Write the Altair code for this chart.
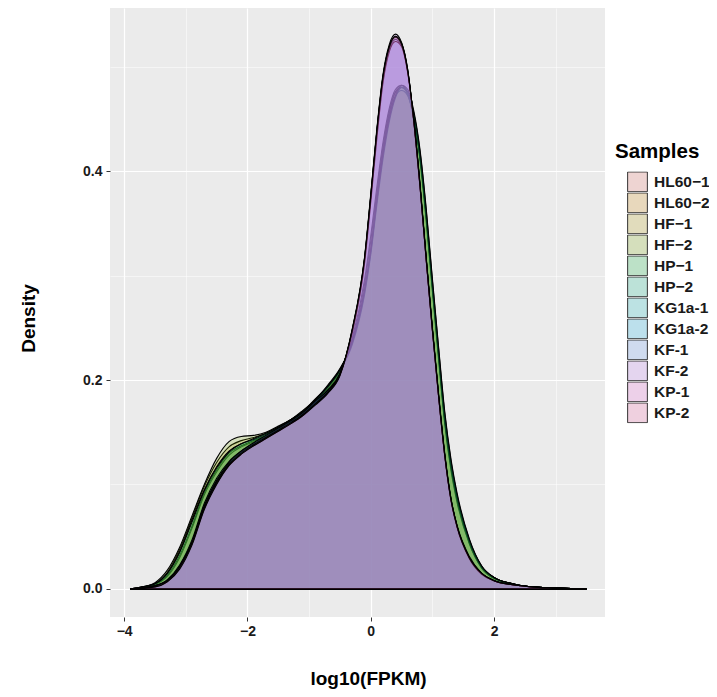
import altair as alt
import pandas as pd

# x grid (log10 FPKM) shared by every density curve
X = [-3.9, -3.7, -3.5, -3.3, -3.1, -2.9, -2.7, -2.5, -2.3, -2.1, -1.9, -1.7, -1.5, -1.3,
     -1.1, -0.9, -0.7, -0.5, -0.3, -0.1, 0.0, 0.1, 0.2, 0.3, 0.4, 0.5, 0.6, 0.7, 0.8,
     0.9, 1.0, 1.1, 1.2, 1.3, 1.4, 1.6, 1.8, 2.0, 2.3, 2.6, 3.0, 3.5]

SAMPLES = ["HL60\u22121", "HL60\u22122", "HF\u22121", "HF\u22122", "HP\u22121", "HP\u22122",
           "KG1a-1", "KG1a-2", "KF-1", "KF-2", "KP-1", "KP-2"]

D_HL60_1 = [0, 0.001, 0.004, 0.012, 0.030, 0.058, 0.090, 0.112, 0.128, 0.136, 0.141, 0.147, 0.153, 0.160,
            0.168, 0.178, 0.191, 0.207, 0.240, 0.296, 0.338, 0.385, 0.428, 0.460, 0.478, 0.482, 0.474, 0.450, 0.412,
            0.354, 0.287, 0.222, 0.160, 0.116, 0.085, 0.044, 0.020, 0.010, 0.005, 0.002, 0.001, 0]
D_HL60_2 = [0, 0.001, 0.004, 0.013, 0.032, 0.060, 0.092, 0.114, 0.130, 0.137, 0.142, 0.147, 0.154, 0.161,
            0.169, 0.180, 0.193, 0.208, 0.238, 0.292, 0.333, 0.380, 0.424, 0.457, 0.476, 0.480, 0.473, 0.449, 0.410,
            0.352, 0.285, 0.220, 0.158, 0.114, 0.083, 0.043, 0.020, 0.010, 0.005, 0.002, 0.001, 0]
D_HF_1 = [0, 0.002, 0.005, 0.016, 0.038, 0.068, 0.098, 0.121, 0.136, 0.142, 0.145, 0.149, 0.155, 0.162,
          0.170, 0.182, 0.194, 0.210, 0.236, 0.286, 0.325, 0.375, 0.420, 0.455, 0.475, 0.480, 0.474, 0.451, 0.413,
          0.356, 0.289, 0.224, 0.162, 0.118, 0.087, 0.045, 0.021, 0.011, 0.005, 0.002, 0.001, 0]
D_HF_2 = [0, 0.002, 0.006, 0.018, 0.040, 0.070, 0.100, 0.125, 0.141, 0.146, 0.147, 0.150, 0.156, 0.162,
          0.171, 0.181, 0.195, 0.211, 0.236, 0.284, 0.322, 0.372, 0.418, 0.452, 0.472, 0.477, 0.472, 0.450, 0.413,
          0.357, 0.290, 0.225, 0.163, 0.119, 0.088, 0.046, 0.021, 0.011, 0.005, 0.002, 0.001, 0]
D_HP_1 = [0, 0.002, 0.005, 0.015, 0.036, 0.066, 0.095, 0.117, 0.132, 0.139, 0.143, 0.148, 0.154, 0.161,
          0.169, 0.180, 0.193, 0.209, 0.234, 0.282, 0.320, 0.368, 0.412, 0.447, 0.470, 0.480, 0.476, 0.455, 0.418,
          0.362, 0.295, 0.230, 0.168, 0.123, 0.090, 0.047, 0.022, 0.011, 0.005, 0.002, 0.001, 0]
D_HP_2 = [0, 0.002, 0.005, 0.015, 0.035, 0.064, 0.094, 0.116, 0.131, 0.139, 0.144, 0.149, 0.155, 0.162,
          0.170, 0.181, 0.194, 0.210, 0.236, 0.286, 0.324, 0.372, 0.416, 0.450, 0.472, 0.482, 0.478, 0.457, 0.420,
          0.364, 0.297, 0.232, 0.170, 0.125, 0.092, 0.048, 0.022, 0.011, 0.005, 0.002, 0.001, 0]
D_KG1A_1 = [0, 0.001, 0.003, 0.009, 0.023, 0.047, 0.082, 0.106, 0.122, 0.132, 0.139, 0.146, 0.153, 0.160,
            0.168, 0.179, 0.190, 0.206, 0.246, 0.313, 0.372, 0.434, 0.487, 0.516, 0.526, 0.520, 0.494, 0.447, 0.386,
            0.316, 0.249, 0.186, 0.129, 0.087, 0.060, 0.030, 0.015, 0.008, 0.004, 0.002, 0.001, 0]
D_KG1A_2 = [0, 0.001, 0.003, 0.008, 0.022, 0.045, 0.080, 0.104, 0.120, 0.131, 0.138, 0.145, 0.152, 0.159,
            0.167, 0.178, 0.189, 0.205, 0.247, 0.316, 0.376, 0.439, 0.491, 0.519, 0.529, 0.522, 0.496, 0.447, 0.385,
            0.315, 0.248, 0.185, 0.128, 0.086, 0.060, 0.030, 0.015, 0.008, 0.004, 0.002, 0.001, 0]
D_KF_1 = [0, 0.001, 0.003, 0.008, 0.021, 0.044, 0.079, 0.103, 0.121, 0.132, 0.140, 0.147, 0.154, 0.161,
          0.169, 0.180, 0.190, 0.206, 0.245, 0.312, 0.370, 0.432, 0.485, 0.514, 0.524, 0.519, 0.494, 0.448, 0.387,
          0.317, 0.250, 0.187, 0.130, 0.087, 0.061, 0.031, 0.015, 0.008, 0.004, 0.002, 0.001, 0]
D_KF_2 = [0, 0.001, 0.002, 0.007, 0.020, 0.043, 0.077, 0.101, 0.118, 0.129, 0.137, 0.144, 0.151, 0.158,
          0.166, 0.177, 0.188, 0.205, 0.249, 0.318, 0.378, 0.441, 0.493, 0.521, 0.531, 0.523, 0.497, 0.446, 0.384,
          0.314, 0.247, 0.184, 0.127, 0.085, 0.059, 0.029, 0.014, 0.008, 0.004, 0.002, 0.001, 0]
D_KP_1 = [0, 0.001, 0.003, 0.008, 0.021, 0.044, 0.078, 0.102, 0.119, 0.130, 0.138, 0.145, 0.152, 0.159,
          0.167, 0.177, 0.188, 0.205, 0.248, 0.316, 0.375, 0.438, 0.490, 0.518, 0.528, 0.521, 0.495, 0.447, 0.385,
          0.315, 0.248, 0.185, 0.128, 0.086, 0.060, 0.030, 0.015, 0.008, 0.004, 0.002, 0.001, 0]
D_KP_2 = [0, 0.001, 0.002, 0.007, 0.019, 0.042, 0.076, 0.100, 0.118, 0.129, 0.137, 0.144, 0.151, 0.158,
          0.166, 0.176, 0.187, 0.204, 0.248, 0.317, 0.376, 0.439, 0.491, 0.519, 0.529, 0.522, 0.496, 0.447, 0.385,
          0.315, 0.248, 0.185, 0.128, 0.086, 0.060, 0.030, 0.015, 0.008, 0.004, 0.002, 0.001, 0]

SERIES = [D_HL60_1, D_HL60_2, D_HF_1, D_HF_2, D_HP_1, D_HP_2,
          D_KG1A_1, D_KG1A_2, D_KF_1, D_KF_2, D_KP_1, D_KP_2]

HUES = ["#F8766D", "#DE8C00", "#B79F00", "#7CAE00", "#00BA38", "#00C08B",
        "#00BFC4", "#00B4F0", "#619CFF", "#C77CFF", "#F564E3", "#FF64B0"]
KEY_COLORS = ["#EED4D2", "#E8D8BC", "#E1DCBC", "#D5DFBC", "#BCE1C7", "#BCE2D8",
              "#BCE2E3", "#BCE0EC", "#CFDBEF", "#E4D5EF", "#EDD0E9", "#EFD0DF"]

X_TICKS = [-4, -3, -2, -1, 0, 1, 2, 3]
Y_TICKS = [0.0, 0.1, 0.2, 0.3, 0.4, 0.5]

rows = []
for i, (s, vals) in enumerate(zip(SAMPLES, SERIES)):
    for xv, dv in zip(X, vals):
        rows.append({"x": xv, "d": dv, "sample": s, "ord": i})
df = pd.DataFrame(rows)

FONT = "Liberation Sans"
xscale = alt.Scale(domain=[-4.23, 3.80], nice=False, zero=False)
yscale = alt.Scale(domain=[-0.0268, 0.556], nice=False, zero=False)

x_axis = alt.Axis(
    values=X_TICKS, format="d",
    labelExpr="datum.value % 2 === 0 ? datum.label : ''",
    grid=True, gridColor="white",
    gridWidth={"condition": {"test": "datum.value % 2 === 0", "value": 1.2}, "value": 0.5},
    tickOpacity={"condition": {"test": "datum.value % 2 === 0", "value": 1}, "value": 0},
    domain=False, tickColor="#333333", tickSize=4, tickWidth=1,
    labelFont=FONT, labelFontWeight="bold", labelFontSize=14, labelColor="#1a1a1a",
    labelPadding=3, title="log10(FPKM)", titleFont=FONT, titleFontSize=19,
    titleFontWeight="bold", titleColor="#000000", titleX=258, titleY=61,
    titleBaseline="middle", titleAlign="center",
)
y_axis = alt.Axis(
    values=Y_TICKS, format=".1f",
    labelExpr="round(datum.value * 10) % 2 === 0 ? datum.label : ''",
    grid=True, gridColor="white",
    gridWidth={"condition": {"test": "round(datum.value * 10) % 2 === 0", "value": 1.2}, "value": 0.5},
    tickOpacity={"condition": {"test": "round(datum.value * 10) % 2 === 0", "value": 1}, "value": 0},
    domain=False, tickColor="#333333", tickSize=4, tickWidth=1,
    labelFont=FONT, labelFontWeight="bold", labelFontSize=14, labelColor="#1a1a1a",
    labelPadding=4, title="Density", titleFont=FONT, titleFontSize=19,
    titleFontWeight="bold", titleColor="#000000", titleX=-82, titleY=310,
    titleAngle=-90, titleBaseline="middle", titleAlign="center",
)

areas = alt.Chart(df).mark_area(
    interpolate="monotone", fillOpacity=0.2, stroke="black", strokeWidth=1.1, clip=True
).encode(
    x=alt.X("x:Q", scale=xscale, axis=x_axis),
    y=alt.Y("d:Q", scale=yscale, stack=None, axis=y_axis),
    y2=alt.datum(0),
    fill=alt.Fill("sample:N", scale=alt.Scale(domain=SAMPLES, range=HUES), legend=None),
    order=alt.Order("ord:Q"),
)

# legend-only layer: no rows drawn, the explicit scale domain provides the entries
keys = alt.Chart(df).transform_filter("false").mark_square(filled=True).encode(
    x=alt.X("x:Q", scale=xscale),
    y=alt.Y("d:Q", scale=yscale),
    fill=alt.Fill(
        "sample:N",
        scale=alt.Scale(domain=SAMPLES, range=KEY_COLORS),
        legend=alt.Legend(
            title="Samples", orient="none", legendX=505, legendY=134,
            titleFont=FONT, titleFontSize=20.5, titleFontWeight="bold", titleColor="#000000",
            titlePadding=9, symbolType="square", symbolSize=390,
            symbolStrokeColor="#333333", symbolStrokeWidth=1, symbolOpacity=1,
            symbolOffset=12, labelFont=FONT, labelFontSize=15.5, labelFontWeight="bold",
            labelColor="#1a1a1a", labelOffset=6, rowPadding=0, clipHeight=20.7,
        ),
    ),
)

chart = alt.layer(areas, keys).resolve_scale(fill="independent").properties(
    width=495, height=609,
    autosize=alt.AutoSizeParams(type="none"),
    padding={"left": 102, "top": 0, "right": 104, "bottom": 72},
).configure(background="white").configure_view(fill="#EBEBEB", strokeWidth=0)

chart.save("out.html", embed_options={"renderer": "svg", "actions": False})
